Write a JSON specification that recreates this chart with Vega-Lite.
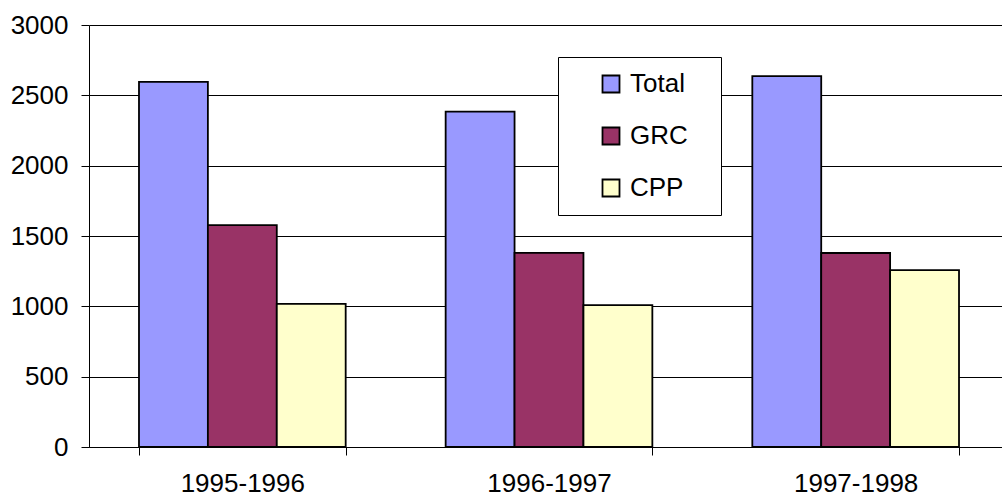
{
  "$schema": "https://vega.github.io/schema/vega-lite/v6.json",
  "autosize": {"type": "none"},
  "padding": {"left": 89, "top": 25, "right": 0, "bottom": 51},
  "width": 920,
  "height": 422,
  "background": "white",
  "data": {"values": [
    {"period": "1995-1996", "series": "Total", "value": 2595},
    {"period": "1995-1996", "series": "GRC", "value": 1578},
    {"period": "1995-1996", "series": "CPP", "value": 1018},
    {"period": "1996-1997", "series": "Total", "value": 2384},
    {"period": "1996-1997", "series": "GRC", "value": 1380},
    {"period": "1996-1997", "series": "CPP", "value": 1008},
    {"period": "1997-1998", "series": "Total", "value": 2636},
    {"period": "1997-1998", "series": "GRC", "value": 1379},
    {"period": "1997-1998", "series": "CPP", "value": 1258}
  ]},
  "mark": {"type": "bar", "stroke": "black", "strokeWidth": 1.8},
  "encoding": {
    "x": {
      "field": "period", "type": "nominal", "title": null,
      "scale": {"paddingInner": 0.326, "paddingOuter": 0.163},
      "axis": {
        "labelAngle": 0, "labelFont": "Liberation Sans", "labelFontSize": 26, "labelColor": "black",
        "tickBand": "extent", "tickSize": 8, "tickColor": "black", "domainColor": "black",
        "labelPadding": 15, "grid": false
      }
    },
    "xOffset": {"field": "series", "type": "nominal", "sort": ["Total", "GRC", "CPP"]},
    "y": {
      "field": "value", "type": "quantitative", "title": null,
      "scale": {"domain": [0, 3000], "nice": false},
      "axis": {
        "values": [0, 500, 1000, 1500, 2000, 2500, 3000], "format": "d",
        "labelFont": "Liberation Sans", "labelFontSize": 26, "labelColor": "black",
        "tickSize": 8, "tickColor": "black", "domainColor": "black", "labelPadding": 13,
        "gridColor": "black", "gridOpacity": 1, "gridWidth": 1
      }
    },
    "color": {
      "field": "series", "type": "nominal", "title": null,
      "sort": ["Total", "GRC", "CPP"],
      "scale": {"domain": ["Total", "GRC", "CPP"], "range": ["#9999FF", "#993366", "#FFFFCC"]},
      "legend": {
        "orient": "none", "legendX": 469, "legendY": 32,
        "fillColor": "white", "strokeColor": "black", "padding": 14,
        "symbolType": "square", "symbolSize": 289, "symbolStrokeColor": "black", "symbolStrokeWidth": 1.8,
        "symbolOffset": 26,
        "labelFont": "Liberation Sans", "labelFontSize": 26, "labelColor": "black", "labelOffset": 6,
        "labelExpr": "datum.label + '\u2800'",
        "rowPadding": 26
      }
    }
  },
  "config": {"view": {"stroke": null}, "axis": {"domainWidth": 1, "tickWidth": 1}}
}
